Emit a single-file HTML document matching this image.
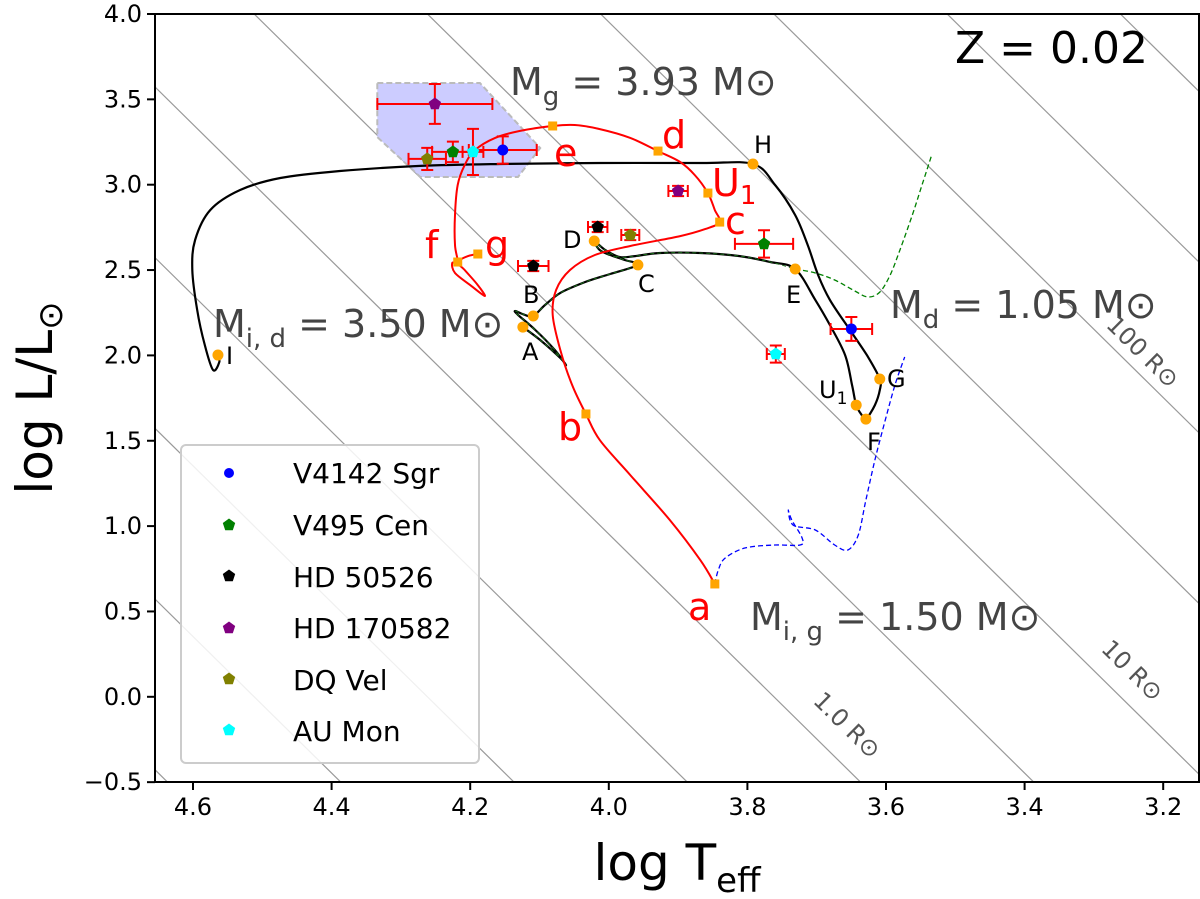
<!DOCTYPE html>
<html><head><meta charset="utf-8"><style>
html,body{margin:0;padding:0;background:#fff;width:1200px;height:899px;overflow:hidden;position:relative}
svg{display:block;font-family:"DejaVu Sans","Liberation Sans",sans-serif}
</style></head><body>
<svg id="chart" width="1200" height="899" viewBox="0 0 1200 899" style="position:absolute;left:0;top:0"></svg>
<script>
// ---- data (logTeff, logL) ----
const xTicks=[4.6,4.4,4.2,4.0,3.8,3.6,3.4,3.2];
const xTickLabels=["4.6","4.4","4.2","4.0","3.8","3.6","3.4","3.2"];
const yTicks=[4.0,3.5,3.0,2.5,2.0,1.5,1.0,0.5,0.0,-0.5];
const yTickLabels=["4.0","3.5","3.0","2.5","2.0","1.5","1.0","0.5","0.0","\u22120.5"];
const radiusLogR=[-2,-1.5,-1,-0.5,0,0.5,1,1.5,2,2.5,3,3.5];
const donorT=[4.124,4.099,4.070,4.062,4.078,4.106,4.131,4.135,4.121,4.109,4.092,4.070,4.034,3.998,3.958,3.977,3.998,4.013,4.021,4.005,3.984,3.962,3.926,3.868,3.811,3.767,3.731,3.702,3.681,3.659,3.649,3.643,3.635,3.629,3.616,3.609,3.609,3.626,3.652,3.681,3.698,3.713,3.731,3.760,3.792,3.868,4.013,4.157,4.272,4.388,4.474,4.532,4.575,4.597,4.601,4.594,4.583,4.571,4.562,4.564];
const donorL=[2.166,2.090,1.985,1.944,2.032,2.149,2.237,2.260,2.237,2.231,2.295,2.366,2.430,2.477,2.530,2.559,2.588,2.617,2.670,2.617,2.576,2.582,2.600,2.600,2.582,2.547,2.506,2.325,2.178,2.002,1.827,1.709,1.651,1.627,1.709,1.797,1.862,1.991,2.149,2.325,2.471,2.647,2.822,2.998,3.121,3.127,3.127,3.121,3.110,3.080,3.039,2.969,2.852,2.676,2.500,2.266,2.061,1.914,1.961,2.002];
const donorGreenEnd=27;
const gainerT=[3.847,3.868,3.912,3.969,4.013,4.033,4.053,4.070,4.081,4.076,4.056,4.020,3.969,3.897,3.861,3.840,3.847,3.857,3.876,3.897,3.929,3.969,4.013,4.049,4.081,4.128,4.164,4.193,4.208,4.218,4.222,4.222,4.218,4.226,4.222,4.200,4.179,4.189,4.208,4.218,4.203,4.189];
const gainerL=[0.661,0.801,1.036,1.299,1.504,1.657,1.827,2.032,2.237,2.383,2.500,2.588,2.641,2.699,2.740,2.781,2.852,2.951,3.057,3.133,3.197,3.274,3.326,3.350,3.344,3.315,3.274,3.203,3.115,2.998,2.822,2.647,2.547,2.541,2.483,2.412,2.348,2.412,2.500,2.547,2.582,2.594];
const blueDashT=[3.847,3.842,3.832,3.803,3.760,3.724,3.721,3.736,3.741,3.734,3.702,3.674,3.655,3.640,3.629,3.616,3.601,3.587,3.573];
const blueDashL=[0.661,0.743,0.813,0.872,0.889,0.889,0.930,1.036,1.094,1.006,0.977,0.889,0.860,0.948,1.153,1.387,1.622,1.827,1.991];
const greenDashT=[3.731,3.702,3.674,3.645,3.626,3.609,3.594,3.580,3.562,3.548,3.534];
const greenDashL=[2.506,2.483,2.442,2.377,2.342,2.371,2.471,2.617,2.822,2.998,3.174];
const circleNames=["A","B","C","D","E","F","G","U1","H","I"];
const circleT=[4.124,4.109,3.958,4.021,3.731,3.629,3.609,3.643,3.792,4.564];
const circleL=[2.166,2.231,2.530,2.670,2.506,1.627,1.862,1.709,3.121,2.002];
const squareNames=["a","b","c","U1","d","e","f","g"];
const squareT=[3.847,4.033,3.840,3.857,3.929,4.081,4.218,4.189];
const squareL=[0.661,1.657,2.781,2.951,3.197,3.344,2.547,2.594];
const shadeT=[4.334,4.186,4.099,4.131,4.272,4.334];
const shadeL=[3.596,3.596,3.215,3.045,3.045,3.279];
const starNames=["V4142 Sgr","V495 Cen","HD 50526","HD 170582","DQ Vel","AU Mon"];
const starColors=["#0000ff","#008000","#000000","#800080","#808000","#00ffff"];
const starT1=[4.153,4.225,4.109,4.251,4.262,4.196];
const starL1=[3.203,3.192,2.524,3.473,3.151,3.192];
const starTe1=[0.049,0.030,0.022,0.083,0.027,0.015];
const starLe1=[0.080,0.060,0.030,0.117,0.065,0.135];
const starT2=[3.650,3.776,4.016,3.900,3.969,3.759];
const starL2=[2.155,2.653,2.752,2.963,2.705,2.008];
const starTe2=[0.030,0.042,0.014,0.014,0.013,0.013];
const starLe2=[0.070,0.080,0.030,0.030,0.030,0.050];

// ---- axes ----
const X0=155,X1=1200,Y0=14,Y1=782;
function xs(t){return 193+(4.6-t)*693;}
function ys(l){return 14+(4-l)*170.7;}
const NS="http://www.w3.org/2000/svg";
const svg=document.getElementById('chart');
function el(tag,attrs,parent){const e=document.createElementNS(NS,tag);for(const k in attrs)e.setAttribute(k,attrs[k]);(parent||svg).appendChild(e);return e;}
const defs=el('defs',{});
const cp=el('clipPath',{id:'clip'},defs);
el('rect',{x:X0,y:Y0,width:X1-X0,height:Y1-Y0},cp);
const plot=el('g',{'clip-path':'url(#clip)'});



radiusLogR.forEach(r=>{
  const tA=4.8,tB=3.0;
  const ln=el('line',{x1:xs(tA),y1:ys(2*r+4*(tA-3.7617)),x2:xs(tB),y2:ys(2*r+4*(tB-3.7617)),stroke:'#999',"stroke-width":1.2},plot);
  
  
});
function pts(T,L){return T.map((t,i)=>xs(t).toFixed(1)+','+ys(L[i]).toFixed(1)).join(' ');}
function smooth(T,L){
  const P=T.map((t,i)=>[xs(t),ys(L[i])]);
  let d='M'+P[0][0].toFixed(1)+','+P[0][1].toFixed(1);
  for(let i=0;i<P.length-1;i++){
    const p0=P[Math.max(i-1,0)],p1=P[i],p2=P[i+1],p3=P[Math.min(i+2,P.length-1)];
    const c1=[p1[0]+(p2[0]-p0[0])/6,p1[1]+(p2[1]-p0[1])/6];
    const c2=[p2[0]-(p3[0]-p1[0])/6,p2[1]-(p3[1]-p1[1])/6];
    d+='C'+c1[0].toFixed(1)+','+c1[1].toFixed(1)+' '+c2[0].toFixed(1)+','+c2[1].toFixed(1)+' '+p2[0].toFixed(1)+','+p2[1].toFixed(1);
  }
  return d;
}
const shade=el('polygon',{points:pts(shadeT,shadeL),fill:'#ccccff',stroke:'#bbb','stroke-width':2,'stroke-dasharray':'6,3'},plot);



const bd=el('path',{d:smooth(blueDashT,blueDashL),fill:'none',stroke:'#0000ff','stroke-width':1.3,'stroke-dasharray':'5,3'},plot);


const gd=el('path',{d:smooth(greenDashT,greenDashL),fill:'none',stroke:'#008000','stroke-width':1.3,'stroke-dasharray':'5,3'},plot);


const dt=el('path',{d:smooth(donorT,donorL),fill:'none',stroke:'#000','stroke-width':2.2},plot);


const dg=el('path',{d:smooth(donorT.slice(0,donorGreenEnd),donorL.slice(0,donorGreenEnd)),fill:'none',stroke:'#1a6b1a','stroke-width':1,'stroke-dasharray':'4,3'},plot);


const gt=el('path',{d:smooth(gainerT,gainerL),fill:'none',stroke:'#ff0000','stroke-width':2},plot);



function pent(cx,cy,r){let p=[];for(let k=0;k<5;k++){const a=-Math.PI/2+k*2*Math.PI/5;p.push((cx+r*Math.cos(a)).toFixed(1)+','+(cy+r*Math.sin(a)).toFixed(1));}return p.join(' ');}
function star(i,T,L,te,le,which){
  const g=el('g',{},plot);
  
  
  const cx=xs(T),cy=ys(L),xa=xs(T+te),xb=xs(T-te),ya=ys(L+le),yb=ys(L-le),c=6;
  const d=`M${xa},${cy}H${xb}M${cx},${ya}V${yb}M${xa},${cy-c}V${cy+c}M${xb},${cy-c}V${cy+c}M${cx-c},${ya}H${cx+c}M${cx-c},${yb}H${cx+c}`;
  el('path',{d:d,stroke:'#ff0000','stroke-width':2,fill:'none'},g);
  if(i===0) el('circle',{cx:cx,cy:cy,r:5.5,fill:starColors[i]},g);
  else el('polygon',{points:pent(cx,cy,6.5),fill:starColors[i]},g);
}
starNames.forEach((n,i)=>{star(i,starT1[i],starL1[i],starTe1[i],starLe1[i],'1');star(i,starT2[i],starL2[i],starTe2[i],starLe2[i],'2');});

circleNames.forEach((n,i)=>{
  const c=el('circle',{cx:xs(circleT[i]),cy:ys(circleL[i]),r:5.5,fill:'#ffa500'},plot);
  
  
});
squareNames.forEach((n,i)=>{
  const s=el('rect',{x:xs(squareT[i])-4.5,y:ys(squareL[i])-4.5,width:9,height:9,fill:'#ffa500'},plot);
  
  
});

const frame=el('rect',{x:X0,y:Y0,width:X1-X0-1,height:Y1-Y0,fill:'none',stroke:'#000','stroke-width':2});


xTicks.forEach((t,i)=>{
  const x=xs(t);
  el('line',{x1:x,y1:Y1,x2:x,y2:Y1+8,stroke:'#000','stroke-width':2});
  const tx=el('text',{x:x,y:Y1+33,'font-size':24,'text-anchor':'middle',fill:'#000'});
  tx.textContent=xTickLabels[i];
  
  
});
yTicks.forEach((l,i)=>{
  const y=ys(l);
  el('line',{x1:X0-8,y1:y,x2:X0,y2:y,stroke:'#000','stroke-width':2});
  const tx=el('text',{x:X0-13,y:y+8,'font-size':24,'text-anchor':'end',fill:'#000'});
  tx.textContent=yTickLabels[i];
  
  
});
</script>
<svg width="1200" height="899" style="position:absolute;left:0;top:0">
<g font-family="DejaVu Sans, Liberation Sans, sans-serif">
<text x="677" y="880" font-size="50" text-anchor="middle">log T<tspan font-size="34" dy="12">eff</tspan></text>
<text transform="translate(52,398) rotate(-90)" font-size="50" text-anchor="middle">log L/L<tspan font-size="34" dy="10">⊙</tspan></text>
<text x="955" y="63" font-size="44">Z = 0.02</text>
<g fill="#444" font-size="38">
<text x="510" y="95">M<tspan font-size="26" dy="10">g</tspan><tspan dy="-10"> = 3.93 M⊙</tspan></text>
<text x="890" y="318">M<tspan font-size="26" dy="10">d</tspan><tspan dy="-10"> = 1.05 M⊙</tspan></text>
<text x="213" y="337">M<tspan font-size="26" dy="10">i, d</tspan><tspan dy="-10"> = 3.50 M⊙</tspan></text>
<text x="750" y="630">M<tspan font-size="26" dy="10">i, g</tspan><tspan dy="-10"> = 1.50 M⊙</tspan></text>
</g>
<g fill="#555" font-size="24">
<text transform="translate(812,702) rotate(44.6)">1.0 R⊙</text>
<text transform="translate(1100,650) rotate(44.6)">10 R⊙</text>
<text transform="translate(1105,326) rotate(44.6)">100 R⊙</text>
</g>
<g fill="#ff0000" font-size="38">
<text x="688" y="620">a</text>
<text x="558" y="440">b</text>
<text x="725" y="234">c</text>
<text x="712" y="196">U<tspan font-size="26" dy="8">1</tspan></text>
<text x="662" y="148">d</text>
<text x="554" y="166">e</text>
<text x="425" y="258">f</text>
<text x="485" y="258">g</text>
</g>
<g fill="#000" font-size="24">
<text x="754" y="153">H</text>
<text x="563" y="248">D</text>
<text x="523" y="303">B</text>
<text x="638" y="292">C</text>
<text x="522" y="360">A</text>
<text x="786" y="303">E</text>
<text x="819" y="398">U<tspan font-size="17" dy="6">1</tspan></text>
<text x="887" y="387">G</text>
<text x="867" y="450">F</text>
<text x="226" y="364">I</text>
</g>
<g>
<rect x="181" y="445" width="298" height="318" rx="5" fill="#fff" fill-opacity="0.85" stroke="#ccc" stroke-width="2"/>
<g font-size="28" fill="#000">
<circle cx="229" cy="473" r="5" fill="#0000ff"/><text x="293" y="483">V4142 Sgr</text>
<polygon points="229,518.5 235.2,523 232.8,530.3 225.2,530.3 222.8,523" fill="#008000"/><text x="293" y="535">V495 Cen</text>
<polygon points="229,569.5 235.2,574 232.8,581.3 225.2,581.3 222.8,574" fill="#000"/><text x="293" y="587">HD 50526</text>
<polygon points="229,621.5 235.2,626 232.8,633.3 225.2,633.3 222.8,626" fill="#800080"/><text x="293" y="638">HD 170582</text>
<polygon points="229,672.5 235.2,677 232.8,684.3 225.2,684.3 222.8,677" fill="#808000"/><text x="293" y="690">DQ Vel</text>
<polygon points="229,723.5 235.2,728 232.8,735.3 225.2,735.3 222.8,728" fill="#00ffff"/><text x="293" y="741">AU Mon</text>
</g>
</g>
</g>
</svg>
</body></html>
